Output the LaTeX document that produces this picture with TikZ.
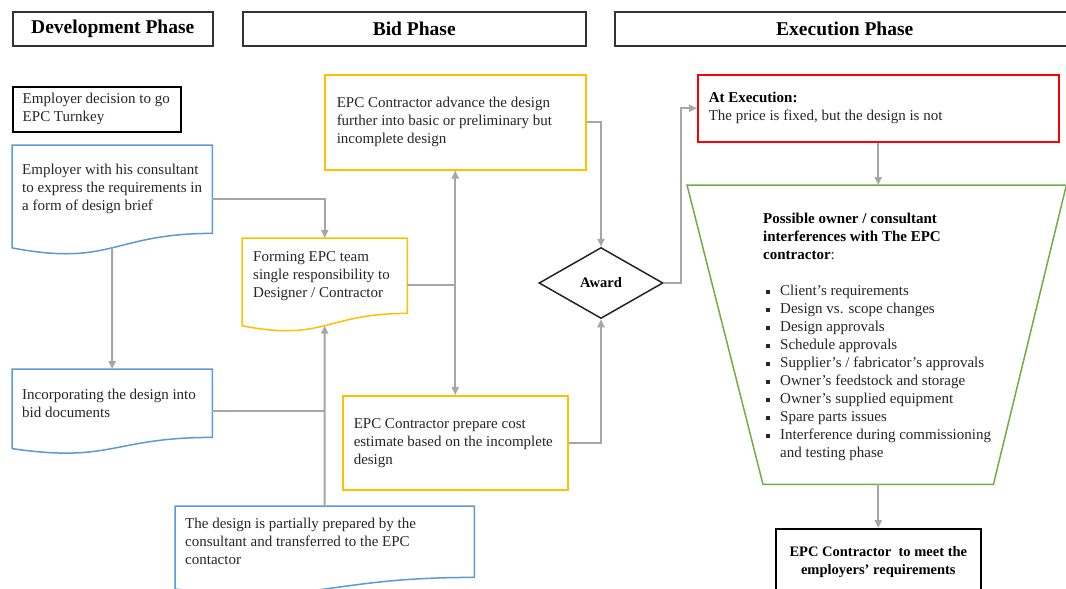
\documentclass[tikz,border=0pt]{standalone}
\usepackage{fontspec}
\setmainfont{Liberation Serif}
\usetikzlibrary{shapes.geometric,arrows.meta,calc}

\definecolor{docblue}{HTML}{5B9BD5}
\definecolor{stepyellow}{HTML}{FFC000}
\definecolor{execred}{HTML}{FF0000}
\definecolor{trapgreen}{HTML}{70AD47}
\definecolor{linkgray}{HTML}{A6A6A6}
\definecolor{ink}{HTML}{262626}

% outline of a "document" flowchart shape around a node whose box is the
% straight part; #3 is the height of that straight part
\newcommand\docoutline[3]{%
  \draw[#2, line width=1.5pt]
    (#1.north west) -- (#1.north east) -- (#1.south east)
    .. controls (#1.south) and ($(#1.south)+(0,0.3815*#3)$) ..
    ($(#1.south west)+(0,0.1646*#3)$) coordinate[pos=0.5] (#1-wave) -- cycle;}

% small square list bullet
\newcommand\sqbullet{\makebox[17pt][l]{\hspace{2.5pt}\rule[1.3pt]{4.5pt}{4.5pt}}}

\begin{document}
\begin{tikzpicture}[x=1pt,y=-1pt,
  body/.style={font=\fontsize{15}{18}\selectfont, text=ink},
  frame/.style={rectangle, draw, line width=1.5pt, anchor=north west,
    inner ysep=0pt, align=flush left, body, fill=white},
  docnode/.style={rectangle, anchor=north west, inner ysep=0pt, align=flush left, body},
  phasebox/.style={rectangle, draw=black!80, line width=1.5pt, anchor=north west,
    minimum height=34pt, font=\fontsize{19.5}{22}\selectfont\bfseries,
    text=black, fill=white},
  link/.style={draw=linkgray, line width=2pt},
  arr/.style={link, -{Triangle[length=8pt,width=7pt]}},
]
\useasboundingbox (0,0) rectangle (1066,589);
\clip (0,0) rectangle (1066,589);
\fill[white] (0,0) rectangle (1066,589);

% phase headers
\node[phasebox, minimum width=200pt] (hdev) at (12,11) {Development Phase};
\node[phasebox, minimum width=343pt] (hbid) at (242,11) {Bid Phase};
\node[phasebox, minimum width=460pt] (hexe) at (614,11) {Execution Phase};

% development phase
\node[frame, draw=black, minimum width=168pt, minimum height=45pt,
  text width=154pt, inner xsep=7pt] (decide) at (12,86)
  {\hspace*{3pt}Employer decision to go\\\hspace*{3pt}EPC Turnkey};

\node[docnode, minimum height=88pt, text width=186pt, inner xsep=7pt] (brief) at (12,145)
  {\hspace*{3pt}Employer with his consultant\\\hspace*{3pt}to express the requirements in\\\hspace*{3pt}a form of design brief};
\docoutline{brief}{docblue}{88}

\node[docnode, minimum height=68pt, text width=186pt, inner xsep=7pt] (incorp) at (12,369)
  {\hspace*{3pt}Incorporating the design into\\\hspace*{3pt}bid documents};
\docoutline{incorp}{docblue}{68}

\node[docnode, minimum height=71pt, text width=279pt, inner xsep=10pt] (partial) at (175,506)
  {The design is partially prepared by the\\consultant and transferred to the EPC\\contactor};
\docoutline{partial}{docblue}{71}

% bid phase
\node[docnode, minimum height=75pt, text width=149pt, inner xsep=8pt] (forming) at (242,238)
  {\hspace*{3pt}Forming EPC team\\\hspace*{3pt}single responsibility to\\\hspace*{3pt}Designer / Contractor};
\docoutline{forming}{stepyellow}{75}

\node[frame, draw=stepyellow, minimum height=95pt, text width=237pt, inner xsep=12pt]
  (advance) at (324,74)
  {EPC Contractor advance the design\\further into basic or preliminary but\\incomplete design};

\node[frame, draw=stepyellow, minimum height=94pt, text width=209pt, inner xsep=8pt]
  (estimate) at (342,395)
  {\hspace*{3pt}EPC Contractor prepare cost\\\hspace*{3pt}estimate based on the incomplete\\\hspace*{3pt}design};

\node[diamond, draw=black!85, line width=1.5pt, minimum width=124pt, minimum height=71pt,
  inner sep=0pt, font=\fontsize{14.5}{16}\selectfont\bfseries, text=black, fill=white]
  (award) at (601,283) {Award};

% execution phase
\node[frame, draw=execred, minimum height=67pt, text width=339pt, inner xsep=11pt]
  (exec) at (697,74)
  {\textbf{\color{black}At Execution:}\\The price is fixed, but the design is not};

\node[rectangle, anchor=north west, inner sep=0pt, minimum width=379pt, minimum height=299pt]
  (trap) at (687,185) {};
\draw[trapgreen, line width=1.5pt] (trap.north west) -- (trap.north east)
  -- ($(trap.south east)+(-73,0)$) -- ($(trap.south west)+(76,0)$) -- cycle;

\node[anchor=north west, inner sep=0pt, align=left, body] (interftext) at (763,213)
  {\textcolor{black}{\textbf{Possible owner / consultant}}\\
   \textcolor{black}{\textbf{interferences with The EPC}}\\
   \textcolor{black}{\textbf{contractor}}:\\[18pt]
   \sqbullet Client’s requirements\\
   \sqbullet Design vs. scope changes\\
   \sqbullet Design approvals\\
   \sqbullet Schedule approvals\\
   \sqbullet Supplier’s / fabricator’s approvals\\
   \sqbullet Owner’s feedstock and storage\\
   \sqbullet Owner’s supplied equipment\\
   \sqbullet Spare parts issues\\
   \sqbullet Interference during commissioning\\
   \hspace*{17pt}and testing phase};

\node[frame, draw=black, line width=1.6pt, align=center, minimum width=205pt,
  minimum height=66pt, inner xsep=0pt,
  font=\fontsize{14.5}{18}\selectfont\bfseries, text=black]
  (meet) at (775,528) {EPC Contractor\ \ to meet the\\employers’ requirements};

% connectors
\draw[arr] ([yshift=-10pt]brief.east) -| (forming.north);
\draw[arr] (brief-wave) -- (incorp.north);
\coordinate (incorp-out) at ([yshift=-8pt]incorp.east);
\draw[link] (incorp-out) -- (incorp-out -| partial.north);
\draw[arr] (partial.north) -- (forming-wave);
\coordinate (forming-out) at ([yshift=-9pt]forming.east);
\draw[link] (forming-out) -- (forming-out -| advance.south);
\draw[link, {Triangle[length=8pt,width=7pt]}-{Triangle[length=8pt,width=7pt]}]
  (advance.south) -- (estimate.north);
\draw[arr] (advance.east) -| (award.north);
\draw[arr] (estimate.east) -| (award.south);
\draw[arr] (award.east) -- ++(17,0) |- (exec.west);
\draw[arr] (exec.south) -- (exec.south |- trap.north);
\draw[arr] (trap.south -| meet.north) -- (meet.north);
\end{tikzpicture}
\end{document}
